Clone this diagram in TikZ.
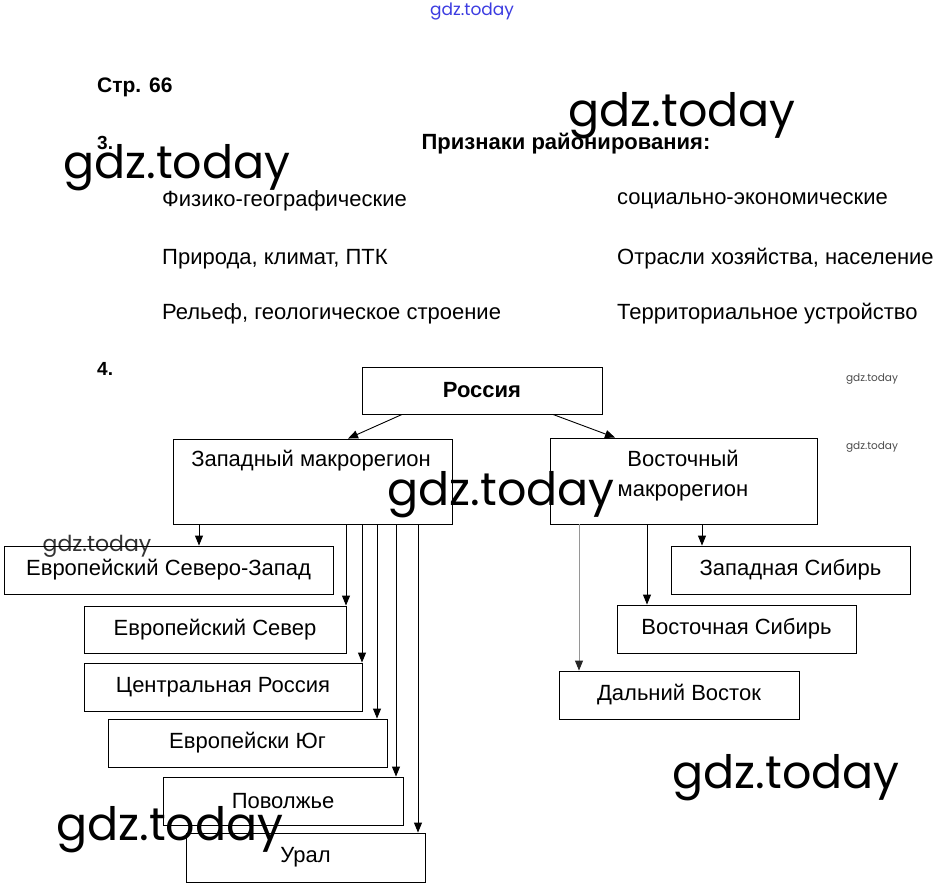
\documentclass[tikz,border=0pt]{standalone}
\usepackage{fontspec}
\setmainfont{Liberation Sans}
\newfontfamily\wmfont{Poppins}
\usetikzlibrary{arrows.meta}
\definecolor{wmblue}{RGB}{60,60,225}
\definecolor{linegray}{RGB}{150,150,150}
\begin{document}
\begin{tikzpicture}[x=1pt,y=-1pt,
  box/.style={draw=black, line width=0.9pt, inner sep=0pt, font=\fontsize{22}{30}\selectfont, align=center},
  btxt/.style={inner sep=0pt, font=\fontsize{22}{30}\selectfont, align=center},
  lbl/.style={inner sep=0pt, font=\fontsize{22}{26}\selectfont, anchor=west},
  hdr/.style={inner sep=0pt, font=\fontsize{22}{26}\selectfont\bfseries, anchor=west},
  arr/.style={line width=0.9pt, -{Triangle[length=10pt,width=8pt]}},
  wm/.style={inner sep=0pt, font=\wmfont\fontsize{46}{50}\selectfont, text=black},
]
\useasboundingbox[fill=white] (0,0) rectangle (944,895);

% watermarks
\node[wm, text=wmblue, font=\wmfont\fontsize{17}{20}\selectfont] (w0) at (472,12) {gdz.today};
\node[wm] (w1) at (177,168) {gdz.today};
\node[wm] (w2) at (682,116) {gdz.today};
\node[wm] (w5) at (786,778) {gdz.today};
\node[wm] (w6) at (170,830) {gdz.today};
\node[wm, text=black!80, font=\wmfont\fontsize{22}{24}\selectfont] (w7) at (97,546) {gdz.today};
\node[wm, text=black!70, font=\wmfont\fontsize{10.5}{12}\selectfont] (w8) at (872,379) {gdz.today};
\node[wm, text=black!70, font=\wmfont\fontsize{10.5}{12}\selectfont] (w9) at (872,447) {gdz.today};

% headers
\node[hdr, font=\fontsize{21}{26}\selectfont\bfseries] (p66) at (97,87) {Стр. 66};
\node[hdr, font=\fontsize{19}{24}\selectfont\bfseries] (n3) at (97,143) {3.};
\node[hdr, anchor=center] (title) at (566,144) {Признаки районирования:};

\node[lbl] (l1) at (162,201) {Физико-географические};
\node[lbl] (l2) at (162,259) {Природа, климат, ПТК};
\node[lbl] (l3) at (162,314) {Рельеф, геологическое строение};
\node[lbl] (r1) at (617,201) {социально-экономические};
\node[lbl] (r2) at (617,259) {Отрасли хозяйства, население};
\node[lbl] (r3) at (617,314) {Территориальное устройство};

\node[hdr, font=\fontsize{19}{24}\selectfont\bfseries] (n4) at (97,369) {4.};

% boxes
\node[box, minimum width=240, minimum height=47, font=\fontsize{22}{26}\selectfont\bfseries] (ros) at (482,390.5) {Россия};
\node[box, minimum width=279, minimum height=85] (zap) at (312.5,481.5) {};
\node[btxt] (zapt) at (311,461) {Западный макрорегион};
\node[box, minimum width=267, minimum height=86] (vos) at (683.5,481) {};
\node[btxt] (vost) at (683,476) {Восточный\\макрорегион};

\node[box, minimum width=329, minimum height=48] (szap) at (168.5,570) {Европейский Северо-Запад};
\node[box, minimum width=262, minimum height=47] (sev) at (215,629.5) {Европейский Север};
\node[box, minimum width=278, minimum height=48] (cen) at (223,687) {Центральная Россия};
\node[box, minimum width=279, minimum height=48] (yug) at (247.5,743) {Европейски Юг};
\node[box, minimum width=240, minimum height=48] (pov) at (283,801) {Поволжье};
\node[box, minimum width=239, minimum height=49] (ural) at (305.5,857.5) {Урал};

\node[box, minimum width=239, minimum height=48] (zsib) at (790.5,570) {Западная Сибирь};
\node[box, minimum width=239, minimum height=48] (vsib) at (736.5,629) {Восточная Сибирь};
\node[box, minimum width=240, minimum height=48] (dv) at (679,695) {Дальний Восток};

% middle watermark over boxes
\node[wm] (w3) at (501,495) {gdz.today};

% connectors
\draw[arr] (ros.south -| 402,0) -- (zap.north -| 348,0);
\draw[arr] (ros.south -| 553,0) -- (vos.north -| 615,0);

\draw[arr] (zap.south -| 199,0) -- (szap.north -| 199,0);
\draw[arr] (zap.south -| 346,0) -- (sev.north -| 346,0);
\draw[arr] (zap.south -| 362,0) -- (cen.north -| 362,0);
\draw[arr] (zap.south -| 377,0) -- (yug.north -| 377,0);
\draw[arr] (zap.south -| 396,0) -- (pov.north -| 396,0);
\draw[arr] (zap.south -| 418,0) -- (ural.north -| 418,0);

\draw[arr] (vos.south -| 702,0) -- (zsib.north -| 702,0);
\draw[arr] (vos.south -| 647,0) -- (vsib.north -| 647,0);
\draw[line width=0.9pt, draw=linegray, -{Triangle[length=10pt,width=8pt,color=black!85]}] (vos.south -| 579,0) -- (dv.north -| 579,0);
\end{tikzpicture}
\end{document}
